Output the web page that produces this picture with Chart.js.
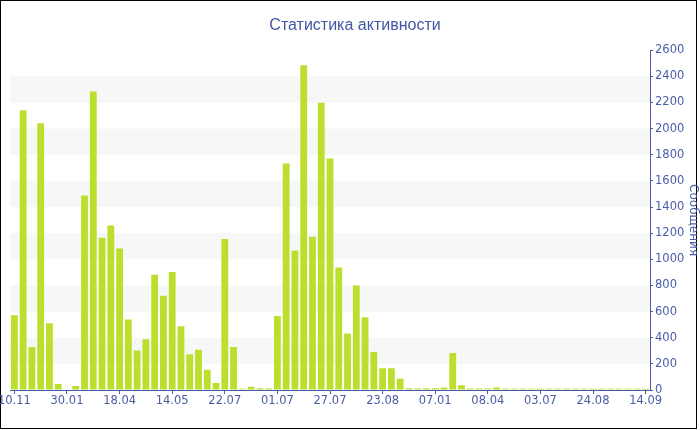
<!DOCTYPE html>
<html>
<head>
<meta charset="utf-8">
<script src="https://cdn.jsdelivr.net/npm/chart.js@4"></script>
<style>
  body { margin: 0; background: #fff; }
  #wrap { position: relative; width: 700px; height: 430px; }
  #frame { position: absolute; left: 0; top: 0; width: 695px; height: 427px; border: 1px solid #000; }
  #c { position: absolute; left: 0; top: 0; }
</style>
</head>
<body>
<div id="wrap">
  <div id="frame"></div>
  <canvas id="c" width="700" height="430"></canvas>
</div>
<script>
// подписи оси X (каждая 6-я категория)
const tickLabels = ['10.11','30.01','18.04','14.05','22.07','01.07','27.07','23.08','07.01','08.04','03.07','24.08','14.09'];
// сообщения по периодам
const messages = [
  571, 2141, 329, 2042, 510, 46, 4, 31, 1489, 2284,
  1165, 1259, 1083, 540, 303, 388, 882, 721, 902, 487,
  273, 308, 155, 54, 1155, 329, 9, 25, 14, 12,
  566, 1733, 1068, 2485, 1173, 2197, 1772, 938, 433, 800,
  557, 291, 167, 167, 87, 13, 12, 13, 13, 20,
  283, 36, 12, 12, 12, 20, 9, 9, 10, 9,
  9, 10, 9, 9, 10, 9, 9, 10, 9, 9,
  10, 9, 9
];
const categories = messages.map((v, i) => i % 6 === 0 ? tickLabels[i / 6] : '');

const blue = '#4a5ca6';
const step = 6;

// чередующиеся полосы фона
const bands = {
  id: 'bands',
  beforeDraw(chart) {
    const { ctx, chartArea, scales } = chart;
    ctx.save();
    ctx.fillStyle = '#f7f7f7';
    for (let v = 200; v < 2600; v += 400) {
      const y1 = scales.y.getPixelForValue(v + 200);
      const y2 = scales.y.getPixelForValue(v);
      ctx.fillRect(chartArea.left, y1, chartArea.right - chartArea.left, y2 - y1);
    }
    ctx.restore();
  }
};

new Chart(document.getElementById('c'), {
  type: 'bar',
  data: {
    labels: categories,
    datasets: [{
      label: 'Сообщения',
      data: messages,
      backgroundColor: '#bcdf2f',
      borderWidth: 0,
      barPercentage: 0.78,
      categoryPercentage: 1
    }]
  },
  options: {
    responsive: false,
    animation: false,
    devicePixelRatio: 1,
    layout: { padding: { left: 10, right: 0, top: 0, bottom: 0 } },
    plugins: {
      legend: { display: false },
      tooltip: { enabled: false },
      title: {
        display: true,
        text: 'Статистика активности',
        color: '#4257a2',
        font: { family: 'Liberation Sans', size: 16, weight: 'normal' },
        padding: { top: 16, bottom: 15 }
      }
    },
    scales: {
      x: {
        offset: true,
        grid: {
          offset: false,
          drawOnChartArea: false,
          tickLength: 4,
          color: ctx => ctx.index % step === 0 ? blue : 'rgba(0,0,0,0)'
        },
        border: { color: blue, width: 1 },
        ticks: {
          autoSkip: false,
          maxRotation: 0,
          minRotation: 0,
          padding: 0,
          color: blue,
          font: { family: 'DejaVu Sans', size: 11.5 }
        },
        afterFit(scale) {
          scale.height = 40;
          scale.paddingLeft = 0;
          scale.paddingRight = 0;
        }
      },
      y: {
        position: 'right',
        min: 0,
        max: 2600,
        grid: {
          drawOnChartArea: false,
          tickLength: 3,
          color: blue
        },
        border: { color: blue, width: 1 },
        ticks: {
          stepSize: 100,
          padding: 2,
          color: blue,
          font: { family: 'DejaVu Sans', size: 11.5 },
          callback: v => v % 200 === 0 ? v : ''
        },
        title: {
          display: true,
          text: 'Сообщения',
          color: blue,
          font: { family: 'DejaVu Sans', size: 12 },
          padding: 0
        },
        afterFit(scale) {
          scale.width = 50;
        }
      }
    }
  },
  plugins: [bands]
});
</script>
</body>
</html>
